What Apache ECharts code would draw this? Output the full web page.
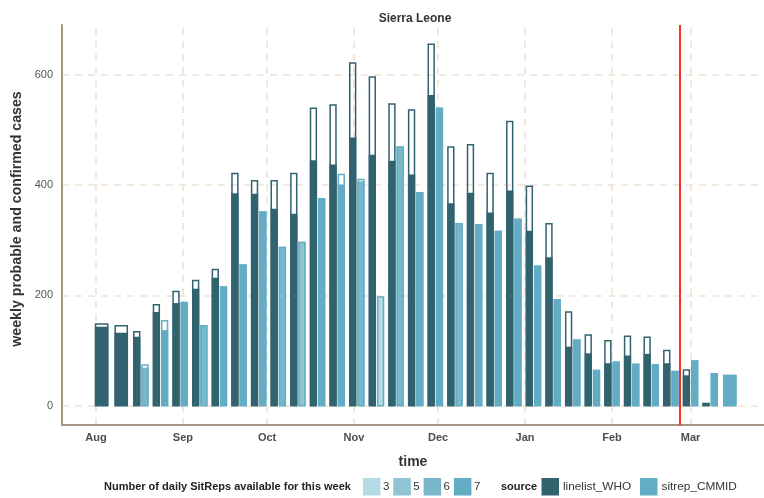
<!DOCTYPE html>
<html>
<head>
<meta charset="utf-8">
<script src="https://cdn.jsdelivr.net/npm/echarts@6/dist/echarts.min.js"></script>
<style>
  html, body { margin: 0; padding: 0; background: #ffffff; }
  #chart { width: 764px; height: 498px; }
</style>
</head>
<body>
<div id="chart"></div>
<script>
// Week dates (centre of each weekly bar)
const weekDates = [
  '2014-08-03', '2014-08-10', '2014-08-17', '2014-08-24', '2014-08-31',
  '2014-09-07', '2014-09-14', '2014-09-21', '2014-09-28', '2014-10-05',
  '2014-10-12', '2014-10-19', '2014-10-26', '2014-11-02', '2014-11-09',
  '2014-11-16', '2014-11-23', '2014-11-30', '2014-12-07', '2014-12-14',
  '2014-12-21', '2014-12-28', '2015-01-04', '2015-01-11', '2015-01-18',
  '2015-01-25', '2015-02-01', '2015-02-08', '2015-02-15', '2015-02-22',
  '2015-03-01', '2015-03-08', '2015-03-15'
];

// linelist_WHO: filled part and full (outlined) weekly total
const linelistConfirmed = [
  143, 132, 125, 170, 186, 212, 232, 385, 384, 357,
  348, 445, 437, 486, 455, 444, 419, 563, 367, 386,
  350, 390, 317, 269, 107, 95, 77, 91, 94, 77,
  55, 5, null
];
const linelistTotal = [
  149, 146, 135, 184, 208, 228, 248, 422, 409, 409,
  422, 540, 546, 622, 597, 548, 537, 656, 470, 474,
  422, 516, 399, 331, 171, 129, 119, 127, 125, 101,
  66, 5, null
];

// sitrep_CMMID: filled part, full weekly total, and number of daily SitReps
const sitrepConfirmed = [
  null, null, 69, 137, 188, 146, 216, 256, 352, 288,
  297, 376, 401, 407, 198, 470, 387, 540, 331, 329,
  317, 339, 254, 193, 120, 65, 80, 76, 75, 63,
  82, 59, 56
];
const sitrepTotal = [
  null, null, 75, 155, 188, 146, 216, 256, 352, 288,
  297, 376, 420, 411, 198, 470, 387, 540, 331, 329,
  317, 339, 254, 193, 120, 65, 80, 76, 75, 63,
  82, 59, 56
];
const sitrepReports = [
  null, null, 6, 7, 7, 6, 7, 7, 7, 6,
  5, 7, 7, 6, 3, 6, 7, 7, 6, 7,
  7, 7, 7, 7, 7, 7, 7, 7, 7, 7,
  7, 7, 7
];

// Axis ticks and reference line
const monthStarts = ['2014-08-01', '2014-09-01', '2014-10-01', '2014-11-01',
                     '2014-12-01', '2015-01-01', '2015-02-01', '2015-03-01'];
const monthLabels = ['Aug', 'Sep', 'Oct', 'Nov', 'Dec', 'Jan', 'Feb', 'Mar'];
const yTicks = [0, 200, 400, 600];
const cutoffDate = '2015-02-25';

const reportLevels = [3, 5, 6, 7];
const reportColors = { 3: '#b4dae5', 5: '#8ec4d3', 6: '#79b8cb', 7: '#63adc4' };
const linelistColor = '#31636f';
const sitrepColor = '#63adc4';

const DAY = 86400000;
const WEEK = 7 * DAY;
const toMs = s => { const p = s.split('-').map(Number); return Date.UTC(p[0], p[1] - 1, p[2]); };

// slot: -1 left of pair, 1 right of pair, 0 alone in its week
const linelistData = [];
const sitrepData = [];
weekDates.forEach((d, i) => {
  const t = toMs(d);
  const hasL = linelistConfirmed[i] != null;
  const hasS = sitrepConfirmed[i] != null;
  if (hasL) linelistData.push([t, linelistConfirmed[i], linelistTotal[i], hasS ? -1 : 0, 0]);
  if (hasS) sitrepData.push([t, sitrepConfirmed[i], sitrepTotal[i], hasL ? 1 : 0, sitrepReports[i]]);
});

// fill colour follows the report count, outline colour follows the source
function makeRenderer(fillOf, strokeColor) {
  return function (params, api) {
    const t = api.value(0);
    const filled = api.value(1);
    const total = api.value(2);
    const slot = api.value(3);
    const fill = fillOf(api.value(4));
    const weekPx = api.size([WEEK, 0])[0];
    const base = api.coord([t, 0]);
    const yFill = api.coord([t, filled])[1];
    const yTot = api.coord([t, total])[1];
    let w, x0;
    if (slot === 0) { w = weekPx * 0.74; x0 = base[0] - w / 2; }
    else { w = weekPx * 0.42; x0 = slot < 0 ? base[0] - w : base[0]; }
    return {
      type: 'group',
      children: [
        { type: 'rect', shape: { x: x0 + 0.5, y: yFill, width: w - 1, height: base[1] - yFill },
          style: { fill: fill } },
        { type: 'rect', shape: { x: x0 + 1.2, y: yTot + 0.6, width: w - 2.4, height: base[1] - yTot - 0.6 },
          style: { fill: 'none', stroke: strokeColor, lineWidth: 1.5 } }
      ]
    };
  };
}

const monthMs = monthStarts.map(toMs);
const FONT = 'Liberation Sans, Arial, sans-serif';
const axisBrown = '#a59582';
const gridColor = '#f0e2d3';

const legendY = 478;
const legendKey = 17.5;
const graphics = [];
// vertical axis title
graphics.push({ type: 'text', x: 17, y: 219, rotation: Math.PI / 2,
  style: { text: 'weekly probable and confirmed cases', font: 'bold 14.2px ' + FONT, fill: '#333',
           align: 'center', verticalAlign: 'middle' } });
graphics.push({ type: 'text', x: 104, y: legendY + legendKey / 2,
  style: { text: 'Number of daily SitReps available for this week', font: 'bold 11px ' + FONT, fill: '#222', verticalAlign: 'middle' } });
reportLevels.forEach((lv, i) => {
  const x = 363 + i * 30.3;
  graphics.push({ type: 'rect', shape: { x: x, y: legendY, width: legendKey, height: legendKey },
    style: { fill: reportColors[lv] } });
  graphics.push({ type: 'text', x: x + legendKey + 2.5, y: legendY + legendKey / 2,
    style: { text: String(lv), font: '11.5px ' + FONT, fill: '#333', verticalAlign: 'middle' } });
});
graphics.push({ type: 'text', x: 501, y: legendY + legendKey / 2,
  style: { text: 'source', font: 'bold 11px ' + FONT, fill: '#222', verticalAlign: 'middle' } });
[['linelist_WHO', linelistColor, 541.5], ['sitrep_CMMID', sitrepColor, 640]].forEach(([name, col, x]) => {
  graphics.push({ type: 'rect', shape: { x: x, y: legendY, width: legendKey, height: legendKey },
    style: { fill: col } });
  graphics.push({ type: 'text', x: x + legendKey + 4, y: legendY + legendKey / 2,
    style: { text: name, font: '11.8px ' + FONT, fill: '#333', verticalAlign: 'middle' } });
});

const chart = echarts.init(document.getElementById('chart'), null, { renderer: 'canvas' });
chart.setOption({
  animation: false,
  backgroundColor: '#ffffff',
  textStyle: { fontFamily: FONT },
  title: {
    text: 'Sierra Leone',
    left: 410, top: 8, textAlign: 'center',
    textStyle: { fontSize: 12, fontWeight: 'bold', color: '#333', fontFamily: FONT }
  },
  grid: { left: 62, right: 0, top: 25, bottom: 73 },
  xAxis: {
    // dates as UTC milliseconds on a linear scale
    type: 'value',
    min: toMs('2014-08-01') - 12.125 * DAY,
    max: toMs('2014-08-01') + 238.2 * DAY,
    name: 'time',
    nameLocation: 'middle',
    nameGap: 30,
    nameTextStyle: { fontSize: 14, fontWeight: 'bold', color: '#333', fontFamily: FONT },
    axisLine: { show: true, onZero: false, lineStyle: { color: axisBrown, width: 2 } },
    axisTick: { show: false },
    splitLine: { show: false },
    axisLabel: {
      customValues: monthMs,
      formatter: v => { const k = monthMs.indexOf(v); return k >= 0 ? monthLabels[k] : ''; },
      fontSize: 11, fontWeight: 'bold', color: '#4d4d4d', margin: 7, fontFamily: FONT
    }
  },
  yAxis: {
    type: 'value',
    min: -35, max: 690,
    axisLine: { show: true, onZero: false, lineStyle: { color: axisBrown, width: 2 } },
    axisTick: { show: false },
    splitLine: { show: false },
    axisLabel: {
      customValues: yTicks,
      fontSize: 11, color: '#555', margin: 9, fontFamily: FONT
    }
  },
  graphic: graphics,
  series: [
    {
      // dashed background grid
      type: 'line', data: [], z: 0, silent: true,
      markLine: {
        z: 0, silent: true, symbol: ['none', 'none'], label: { show: false }, animation: false,
        lineStyle: { color: gridColor, type: [7, 6], width: 1.6 },
        data: yTicks.map(v => ({ yAxis: v })).concat(monthMs.map(t => ({ xAxis: t })))
      }
    },
    {
      name: 'linelist_WHO', type: 'custom', z: 2,
      renderItem: makeRenderer(() => linelistColor, linelistColor),
      encode: { x: 0, y: [1, 2] },
      data: linelistData
    },
    {
      name: 'sitrep_CMMID', type: 'custom', z: 2,
      renderItem: makeRenderer(r => reportColors[r], sitrepColor),
      encode: { x: 0, y: [1, 2] },
      data: sitrepData
    },
    {
      // reporting cutoff line
      type: 'line', data: [], z: 10, silent: true,
      markLine: {
        z: 10, silent: true, symbol: ['none', 'none'], label: { show: false }, animation: false,
        lineStyle: { color: '#ff2a1f', type: 'solid', width: 2 },
        data: [{ xAxis: toMs(cutoffDate) }]
      }
    }
  ]
});
</script>
</body>
</html>
